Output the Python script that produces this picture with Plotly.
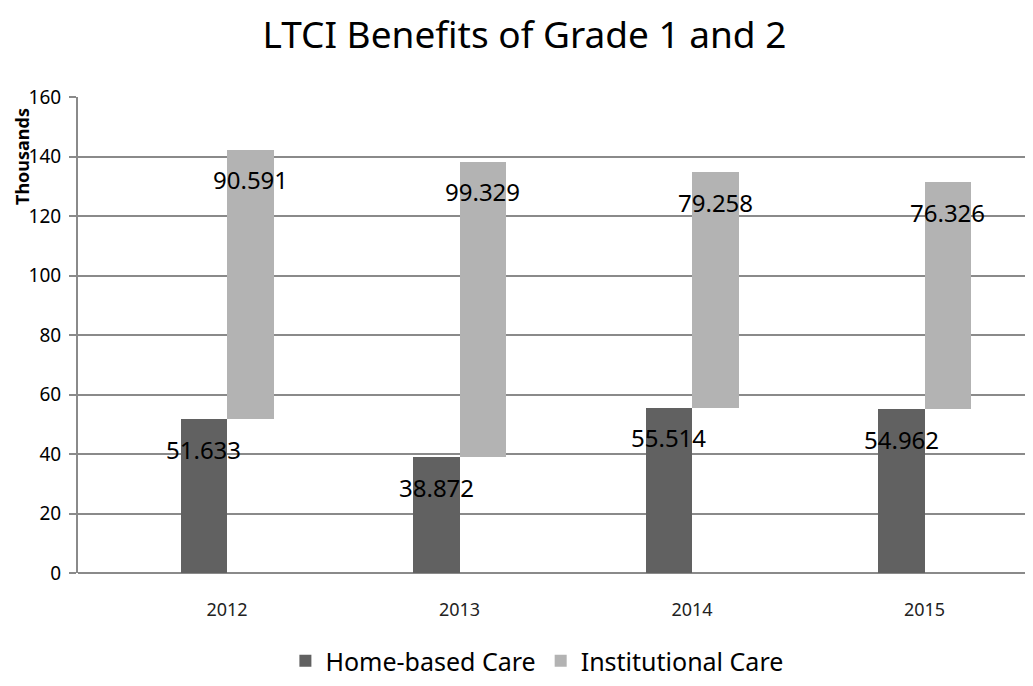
import plotly.graph_objects as go

years = ["2012", "2013", "2014", "2015"]
home_based = [51.633, 38.872, 55.514, 54.962]
institutional = [90.591, 99.329, 79.258, 76.326]

DARK = "#616161"
LIGHT = "#b3b3b3"
GRID = "#8a8a8a"
FONT = "Noto Sans"

W, H = 1033, 686
L, R, T, B = 70, 13, 89, 121
plot_w = W - L - R
plot_h = H - T - B

idx = list(range(len(years)))
tops = [h + i for h, i in zip(home_based, institutional)]

fig = go.Figure()
fig.add_trace(go.Bar(
    name="Home-based Care", x=idx, y=home_based,
    offset=-0.2, width=0.2, marker=dict(color=DARK, line=dict(width=0)),
))
fig.add_trace(go.Bar(
    name="Institutional Care", x=idx, y=institutional, base=home_based,
    offset=0.0, width=0.2, marker=dict(color=LIGHT, line=dict(width=0)),
))

annotations = []
for i, (h, t, v) in enumerate(zip(home_based, tops, institutional)):
    annotations.append(dict(x=i - 0.1, y=h, xref="x", yref="y", text=f"{h:.3f}",
                            showarrow=False, yanchor="middle", yshift=-30,
                            font=dict(family=FONT, size=24, color="#000")))
    annotations.append(dict(x=i + 0.1, y=t, xref="x", yref="y", text=f"{v:.3f}",
                            showarrow=False, yanchor="middle", yshift=-30,
                            font=dict(family=FONT, size=24, color="#000")))

# axis title placed near the top of the value axis, as in the reference
annotations.append(dict(text="<b>Thousands</b>", xref="paper", yref="paper",
                        x=(14 - L) / plot_w, y=(H - B - 149) / plot_h,
                        xanchor="center", yanchor="middle", textangle=-90,
                        showarrow=False, font=dict(family=FONT, size=18, color="#000")))

fig.update_layout(
    width=W, height=H,
    paper_bgcolor="white", plot_bgcolor="white",
    margin=dict(l=L, r=R, t=T, b=B),
    barmode="overlay",
    bargap=0,
    title=dict(text="LTCI Benefits of Grade 1 and 2", x=0.5, xanchor="center",
               y=1 - 27 / H, yanchor="middle", yref="container",
               font=dict(family=FONT, size=37, color="#000")),
    font=dict(family=FONT, color="#000"),
    showlegend=True,
    legend=dict(orientation="h", xref="container", yref="container",
                x=0.512, xanchor="center", y=1 - 653 / H, yanchor="middle",
                font=dict(family=FONT, size=25, color="#000"),
                itemsizing="constant", itemwidth=30, tracegroupgap=0),
    annotations=annotations,
    xaxis=dict(range=[(L - 219) / 232.5, (W - R - 219) / 232.5],
               tickmode="array", tickvals=idx, ticktext=years,
               showgrid=False, zeroline=False, showline=False, ticks="",
               ticklabelstandoff=24,
               tickfont=dict(family=FONT, size=18, color="#222")),
    yaxis=dict(range=[0, 160], dtick=20, showgrid=True, gridcolor=GRID, gridwidth=2,
               zeroline=True, zerolinecolor=GRID, zerolinewidth=2,
               showline=True, linecolor=GRID, linewidth=2,
               ticks="outside", ticklen=7, tickcolor=GRID, tickwidth=2,
               ticklabelstandoff=4,
               tickfont=dict(family=FONT, size=19, color="#000")),
)

fig.write_html("out.html")
